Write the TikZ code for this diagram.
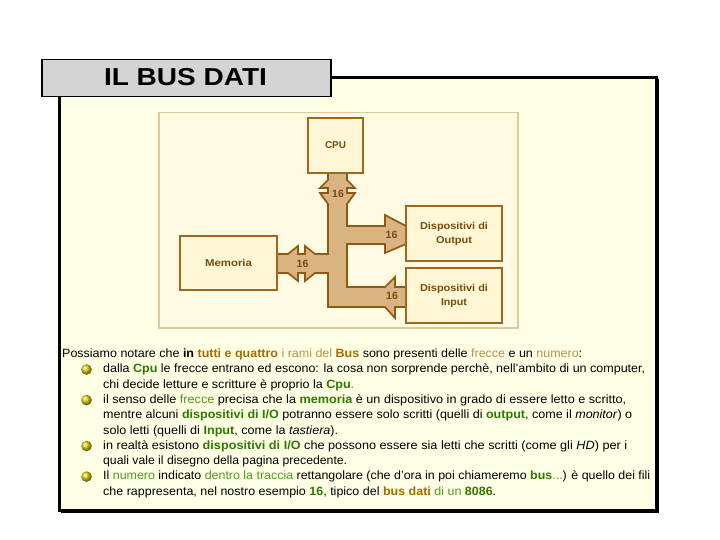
\documentclass[tikz,border=0pt]{standalone}
\usepackage{fontspec}
\setmainfont{Liberation Sans}
\usepackage{graphicx}
\definecolor{frameBg}{HTML}{FFFFE6}
\definecolor{titleFill}{HTML}{D4D4D4}
\definecolor{panelFill}{HTML}{FFFBE2}
\definecolor{panelLine}{HTML}{DCCB9F}
\definecolor{boxFill}{HTML}{FFF7D6}
\definecolor{boxLine}{HTML}{A0661C}
\definecolor{busFill}{HTML}{D9B381}
\definecolor{busLine}{HTML}{8E5A12}
\definecolor{boxText}{HTML}{7A4A0A}
\definecolor{brownB}{HTML}{A86A00}
\definecolor{brownL}{HTML}{B8904A}
\definecolor{greenB}{HTML}{2D7A00}
\definecolor{greenL}{HTML}{4E9A1E}
\definecolor{ballY}{HTML}{DCCF10}
\newcommand\tBB[1]{\textbf{\textcolor{brownB}{#1}}}
\newcommand\tBL[1]{\textcolor{brownL}{#1}}
\newcommand\tGB[1]{\textbf{\textcolor{greenB}{#1}}}
\newcommand\tGL[1]{\textcolor{greenL}{#1}}
\newcommand\fitw[2]{\resizebox{#1pt}{\height}{#2}}
\begin{document}
\begin{tikzpicture}[x=1pt,y=-1pt,
  devbox/.style={draw=boxLine, line width=1.8pt, fill=boxFill, inner sep=0pt, align=center,
    text=boxText, font=\fontsize{10}{14}\selectfont\bfseries},
  buslabel/.style={inner sep=0pt, text=boxText, font=\fontsize{10.5}{12}\selectfont\bfseries},
  txtline/.style={anchor=base west, inner sep=0pt, font=\fontsize{12}{14}\selectfont},
  bulletball/.style={ball color=ballY}]
\useasboundingbox (0,0) rectangle (720,540);
\fill[white] (0,0) rectangle (720,540);
% outer frame
\filldraw[fill=frameBg, draw=black, line width=3pt] (59.5,77.5) rectangle (656.5,510.5);
\draw[black, line width=1pt] (658,79) -- (658,512) -- (61,512);
% title
\node[draw=black, line width=1.5pt, fill=titleFill, minimum width=289pt, minimum height=37pt,
  inner sep=0pt, anchor=north west] (title) at (41,59) {};
\node[anchor=base, inner sep=0pt, font=\fontsize{24.5}{28}\selectfont\bfseries] (titletext) at (185.5,85.5)
  {\fitw{163}{IL BUS DATI}};
% panel
\filldraw[fill=panelFill, draw=panelLine, line width=1.5pt] (159,112.5) rectangle (518,328);
% bus
\filldraw[fill=busFill, draw=busLine, line width=1.7pt, line join=miter]
 (328,173) -- (328,180) -- (320,188) -- (328,188) -- (328,193) -- (320,193) -- (328,204)
 -- (328,254) -- (315,254) -- (305,246) -- (305,254) -- (298,254) -- (298,246) -- (288,254) -- (277,254)
 -- (277,273) -- (288,273) -- (298,281) -- (298,273) -- (305,273) -- (305,281) -- (315,273) -- (328,273)
 -- (328,307) -- (385,307) -- (395,318) -- (395,307) -- (406,307)
 -- (406,287) -- (395,287) -- (395,277) -- (385,287) -- (347,287)
 -- (347,244) -- (385,244) -- (385,253) -- (406,244)
 -- (406,226) -- (385,215) -- (385,226) -- (347,226)
 -- (347,204) -- (355,193) -- (347,193) -- (347,188) -- (355,188) -- (347,180) -- (347,173) -- cycle;
% boxes
\node[devbox, minimum width=55pt, minimum height=55pt] (cpu) at (335.5,145.5) {\fitw{21}{CPU}};
\node[devbox, minimum width=97pt, minimum height=54pt] (mem) at (228.5,263) {\fitw{47}{Memoria}};
\node[devbox, minimum width=96pt, minimum height=55pt] (out) at (454,233.5)
  {\fitw{68}{Dispositivi di}\\\fitw{36}{Output}};
\node[devbox, minimum width=96pt, minimum height=55pt] (inp) at (454,295.5)
  {\fitw{68}{Dispositivi di}\\\fitw{26}{Input}};
% bus widths
\node[buslabel] (n1) at (338,194) {16};
\node[buslabel] (n2) at (302.5,263.5) {16};
\node[buslabel] (n3) at (391.5,234.5) {16};
\node[buslabel] (n4) at (392,296) {16};
% text
\node[txtline] (l1) at (62,357.5) {\fitw{520}{Possiamo notare che \textbf{in} \tBB{tutti e quattro} \tBL{i rami del} \tBB{Bus} sono presenti delle \tBL{frecce} e un \tBL{numero}:}};
\node[txtline] (l2) at (103,372.8) {\fitw{542}{dalla \tGB{Cpu} le frecce entrano ed escono: la cosa non sorprende perchè, nell'ambito di un computer,}};
\node[txtline] (l3) at (103,388.1) {\fitw{251}{chi decide letture e scritture è proprio la \tGB{Cpu}\tGL{.}}};
\node[txtline] (l4) at (103,403.4) {\fitw{523}{il senso delle \tGL{frecce} precisa che la \tGB{memoria} è un dispositivo in grado di essere letto e scritto,}};
\node[txtline] (l5) at (103,418.7) {\fitw{529}{mentre alcuni \tGB{dispositivi di I/O} potranno essere solo scritti (quelli di \tGB{output}, come il \textit{monitor}) o}};
\node[txtline] (l6) at (103,434) {\fitw{235}{solo letti (quelli di \tGB{Input}, come la \textit{tastiera}).}};
\node[txtline] (l7) at (103,449.3) {\fitw{524}{in realtà esistono \tGB{dispositivi di I/O} che possono essere sia letti che scritti (come gli \textit{HD}) per i}};
\node[txtline] (l8) at (103,464.6) {\fitw{244}{quali vale il disegno della pagina precedente.}};
\node[txtline] (l9) at (103,479.9) {\fitw{547}{Il \tGL{numero} indicato \tGL{dentro la traccia} rettangolare (che d'ora in poi chiameremo \tGB{bus}\tGL{...}) è quello dei fili}};
\node[txtline] (l10) at (103,495.2) {\fitw{393}{che rappresenta, nel nostro esempio \tGB{16}, tipico del \tBB{bus dati} \tGL{di un} \tGB{8086}.}};
% bullets
\shade[bulletball] (86.5,369.5) circle (5.3);
\shade[bulletball] (86.5,400.1) circle (5.3);
\shade[bulletball] (86.5,446) circle (5.3);
\shade[bulletball] (86.5,476.6) circle (5.3);
\end{tikzpicture}
\end{document}
